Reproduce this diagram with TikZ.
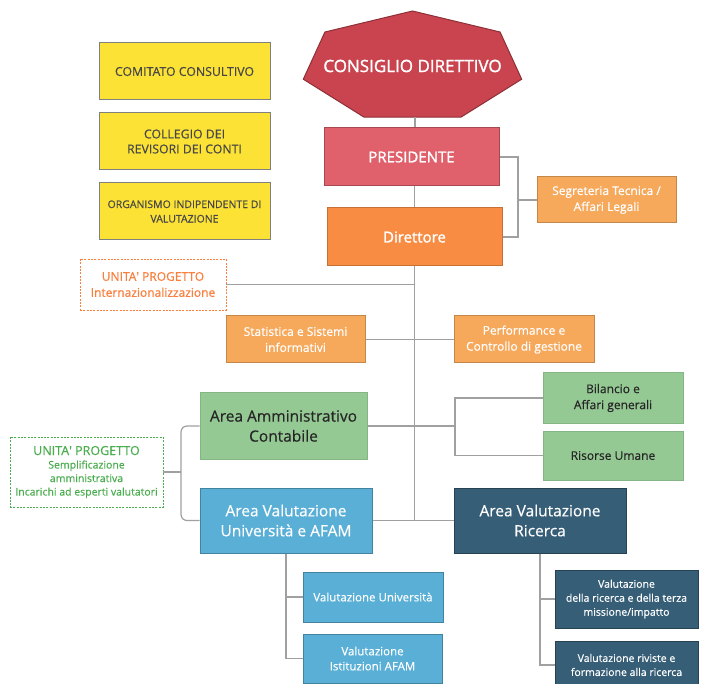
\documentclass[tikz,border=0pt]{standalone}
\usepackage{fontspec}
\setmainfont[FakeBold=0.4]{Open Sans}
\newfontfamily\semib[FakeBold=1.4]{Open Sans}
\usetikzlibrary{calc}

\definecolor{giallo}{HTML}{FCE235}
\definecolor{rosso}{HTML}{C9444F}
\definecolor{rosa}{HTML}{E0606B}
\definecolor{arancio}{HTML}{F98C43}
\definecolor{arancioch}{HTML}{F6A85B}
\definecolor{verde}{HTML}{94C993}
\definecolor{azzurro}{HTML}{5AAFD6}
\definecolor{blu}{HTML}{365E77}
\definecolor{linea}{HTML}{A0A0A0}
\definecolor{verdetesto}{HTML}{4AAE4F}

\tikzset{
  box/.style={rectangle, align=center, inner sep=2pt, line width=1pt},
  organo/.style={box, fill=giallo, draw=gray, text=black!72, font=\fontsize{12.3}{15}\selectfont},
  staff/.style={box, fill=arancioch, draw=arancioch!80!black, text=white, font=\fontsize{12}{16}\selectfont},
  verdebox/.style={box, fill=verde, draw=verde!90!black, text=black!85},
  azzbox/.style={box, fill=azzurro, draw=azzurro!75!black, text=white},
  blubox/.style={box, fill=blu, draw=blu!70!black, text=white},
  progetto/.style={box, fill=white, dash pattern=on 2pt off 1.3pt, line width=0.9pt},
  conn/.style={draw=linea, line width=1.2pt}
}

\begin{document}
\begin{tikzpicture}[x=1pt, y=-1pt]
\useasboundingbox (0,0) rectangle (704,684);

% organi collegiali
\node[organo, minimum width=171, minimum height=57] (com) at (184.5,71.5) {COMITATO CONSULTIVO};
\node[organo, minimum width=171, minimum height=57] (col) at (184.5,141.5) {COLLEGIO DEI\\REVISORI DEI CONTI};
\node[organo, minimum width=171, minimum height=57, font=\fontsize{10.5}{14.5}\selectfont] (oiv) at (184.5,211.5) {ORGANISMO INDIPENDENTE DI\\VALUTAZIONE};

% consiglio direttivo
\coordinate (cdc) at (412.5,66.8);
\fill[rosso, draw=rosso!70!black, line width=1pt] (cdc) +(270:112 and 55.8) -- +(321.43:112 and 55.8) -- +(12.86:112 and 55.8) -- +(64.29:112 and 55.8) -- +(115.71:112 and 55.8) -- +(167.14:112 and 55.8) -- +(218.57:112 and 55.8) -- cycle;
\node[text=white, font=\semib\fontsize{17}{20}\selectfont] (cd) at (412.5,66) {CONSIGLIO DIRETTIVO};
\coordinate (cdbot) at (415,117);

\node[box, fill=rosa, draw=rosa!75!black, text=white, font=\semib\fontsize{15}{18}\selectfont, minimum width=175, minimum height=58] (pres) at (411.5,157) {PRESIDENTE};
\node[box, fill=arancio, draw=arancio!80!black, text=white, font=\semib\fontsize{15}{18}\selectfont, minimum width=175, minimum height=58] (dir) at (414.5,237) {Direttore};
\node[staff, minimum width=139, minimum height=46] (seg) at (606.5,200) {Segreteria Tecnica /\\Affari Legali};

\node[progetto, draw=arancio!90!red, text=arancio!90!red, font=\fontsize{12}{16}\selectfont, minimum width=146, minimum height=51] (upi) at (153,284.5) {UNITA\textquotesingle{} PROGETTO\\Internazionalizzazione};
\node[staff, minimum width=139, minimum height=47] (stat) at (295.5,339.5) {Statistica e Sistemi\\informativi};
\node[staff, minimum width=140, minimum height=47] (perf) at (524,339.5) {Performance e\\Controllo di gestione};

% aree
\node[verdebox, font=\fontsize{15.5}{20}\selectfont, minimum width=167, minimum height=66] (aac) at (283.5,426) {Area Amministrativo\\Contabile};
\node[verdebox, font=\fontsize{12}{16}\selectfont, minimum width=140, minimum height=50] (bil) at (613,398) {Bilancio e\\Affari generali};
\node[verdebox, font=\fontsize{12}{16}\selectfont, minimum width=140, minimum height=49] (ris) at (613,455.5) {Risorse Umane};
\node[progetto, draw=verdetesto, text=verdetesto, font=\fontsize{10.5}{13.5}\selectfont, minimum width=153, minimum height=70] (ups) at (86.5,472) {{\fontsize{12.5}{15}\selectfont UNITA\textquotesingle{} PROGETTO}\\Semplificazione\\amministrativa\\Incarichi ad esperti valutatori};

\node[azzbox, font=\fontsize{15.5}{20}\selectfont, minimum width=172, minimum height=65] (avu) at (286,520.5) {Area Valutazione\\Università e AFAM};
\node[blubox, font=\fontsize{15.5}{20}\selectfont, minimum width=172, minimum height=65] (avr) at (540,520.5) {Area Valutazione\\Ricerca};
\node[azzbox, font=\fontsize{11.5}{15}\selectfont, minimum width=140, minimum height=50] (vun) at (373,597) {Valutazione Università};
\node[azzbox, font=\fontsize{11.5}{15}\selectfont, minimum width=139, minimum height=49] (vaf) at (372.5,658.5) {Valutazione\\Istituzioni AFAM};
\node[blubox, font=\fontsize{10.5}{14}\selectfont, minimum width=143, minimum height=58] (vrt) at (626.5,599) {Valutazione\\della ricerca e della terza\\missione/impatto};
\node[blubox, font=\fontsize{10.5}{14}\selectfont, minimum width=143, minimum height=48] (vrr) at (626.5,665) {Valutazione riviste e\\formazione alla ricerca};

% collegamenti
\coordinate (segbr) at (518,200);
\coordinate (aacbr) at (455,426);
\coordinate (upsbr) at (181,472);
\draw[conn] (cdbot) -- (cdbot |- pres.north);
\draw[conn] (pres.south -| dir.north) -- (dir.north);
\draw[conn] (pres.east) -| (segbr) |- (dir.east);
\draw[conn] (segbr) -- (seg.west);
\draw[conn] (dir.south) -- (dir.south |- avu.east);
\draw[conn] (upi.east) -- (upi.east -| dir.south);
\draw[conn] (stat.east) -- (perf.west);
\draw[conn] (aac.east) -- (aacbr);
\draw[conn] (bil.west) -| (aacbr) |- (ris.west);
\draw[conn] (avu.east) -- (avr.west);
\draw[conn, rounded corners=6] (aac.west) -| (upsbr) |- (avu.west);
\draw[conn] (ups.east) -- (upsbr);
\draw[conn] (avu.south) |- (vun.west);
\draw[conn] (avu.south) |- (vaf.west);
\draw[conn] (avr.south) |- (vrt.west);
\draw[conn] (avr.south) |- (vrr.west);
\end{tikzpicture}
\end{document}
